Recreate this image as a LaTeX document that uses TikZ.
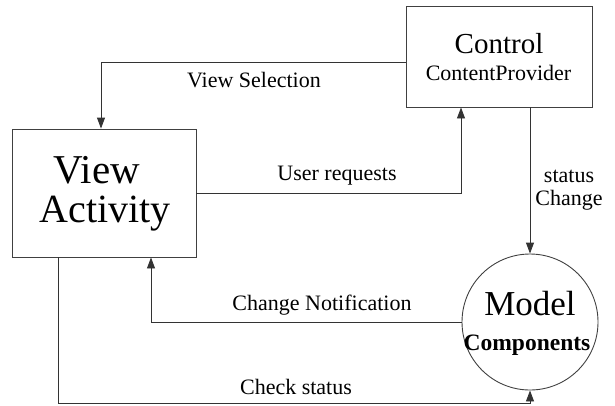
\documentclass[tikz,border=0pt]{standalone}
\usepackage{fontspec}
\setmainfont{Liberation Serif}
\usetikzlibrary{arrows.meta}
\begin{document}
\begin{tikzpicture}[x=1pt, y=-1pt,
    box/.style={draw=black!75, line width=0.9pt, rectangle, inner sep=0pt},
    arr/.style={draw=black!80, line width=0.9pt, -{Triangle[length=11pt,width=8pt]}},
    txt/.style={anchor=base, inner sep=0pt},
    lbl/.style={font=\fontsize{22}{26}\selectfont, anchor=base, inner sep=0pt}]

    % Frame
    \useasboundingbox (0,0) rectangle (615,405);

    % Boxes and circle
    \node[box, minimum width=184pt, minimum height=128pt] (view) at (104,193) {};
    \node[box, minimum width=186pt, minimum height=101pt] (control) at (499,56.5) {};
    \node[draw=black!75, line width=0.9pt, circle, minimum size=136pt, inner sep=0pt] (model) at (530,322) {};

    % Texts inside
    \node[txt, font=\fontsize{41}{42}\selectfont] (viewname) at (97,183) {View};
    \node[txt, font=\fontsize{40}{41}\selectfont] (activity) at (105,222) {Activity};
    \node[txt, font=\fontsize{29}{30}\selectfont] (controlname) at (499,53) {Control};
    \node[txt, font=\fontsize{22}{24}\selectfont] (provider) at (498.5,80) {ContentProvider};
    \node[txt, font=\fontsize{35}{36}\selectfont] (modelname) at (530,315) {Model};
    \node[txt, font=\fontsize{23.5}{25}\selectfont\bfseries] (components) at (527,350) {Components};

    % Connectors
    \draw[arr] ([yshift=-5.5pt]control.west) -| ([xshift=-3pt]view.north);
    \draw[arr] (view.east) -| ([xshift=-38pt]control.south);
    \draw[arr] (model.north |- control.south) -- (model.north);
    \draw[arr] (model.west) -| ([xshift=47pt]view.south);
    \draw[arr] ([xshift=-46pt]view.south) |- ([yshift=-13pt]model.south) -- (model.south);

    % Labels
    \node[lbl] (selection) at (254,87) {View Selection};
    \node[lbl] (requests) at (337,180) {User requests};
    \node[lbl] (status) at (569,182) {status};
    \node[lbl] (change) at (569,205) {Change};
    \node[lbl] (notification) at (322,310) {Change Notification};
    \node[lbl] (check) at (296,394) {Check status};
\end{tikzpicture}
\end{document}
